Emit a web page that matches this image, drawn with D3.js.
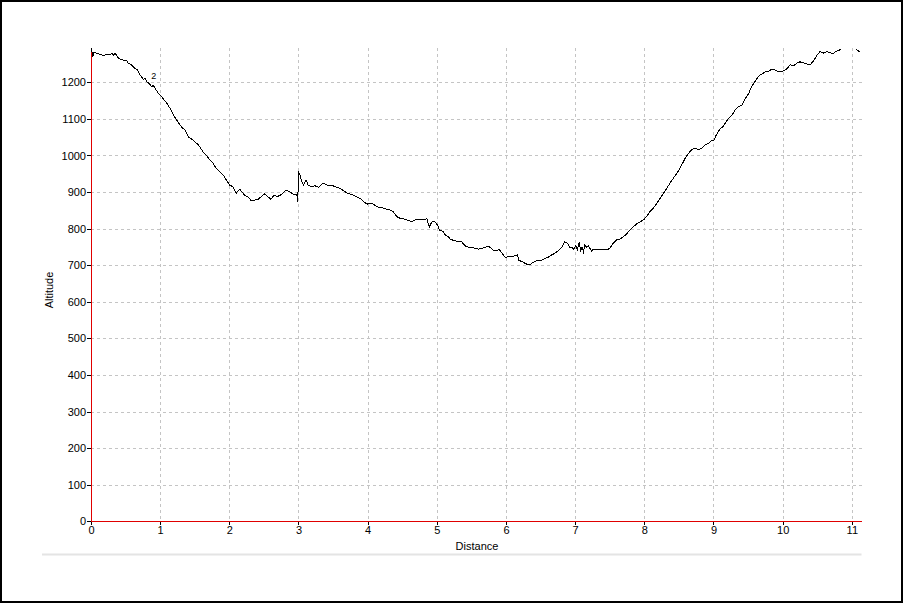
<!DOCTYPE html>
<html><head><meta charset="utf-8">
<script src="https://cdn.jsdelivr.net/npm/d3@7"></script>
<style>
html,body{margin:0;padding:0;background:#fff;}
svg{display:block;font-family:"Liberation Sans",Arial,sans-serif;}
</style></head>
<body>
<svg id="chart" width="904" height="604"></svg>
<script>
const distance = [0.00,0.01,0.025,0.043,0.09,0.13,0.18,0.23,0.275,0.3,0.32,0.345,0.37,0.395,0.43,0.467,0.516,0.54,0.59,0.636,0.67,0.71,0.757,0.78,0.805,0.84,0.878,0.9,0.926,0.973,1.022,1.056,1.095,1.143,1.19,1.24,1.287,1.33,1.36,1.407,1.48,1.55,1.57,1.62,1.667,1.717,1.764,1.81,1.86,1.91,1.957,2.006,2.05,2.1,2.15,2.18,2.22,2.27,2.32,2.37,2.415,2.46,2.51,2.56,2.6,2.65,2.69,2.74,2.78,2.82,2.87,2.92,2.97,2.985,2.99,3.0,3.02,3.05,3.07,3.11,3.14,3.19,3.24,3.29,3.32,3.36,3.41,3.46,3.5,3.55,3.6,3.65,3.7,3.745,3.79,3.84,3.89,3.94,3.99,4.035,4.08,4.13,4.18,4.23,4.28,4.32,4.37,4.42,4.47,4.54,4.59,4.64,4.685,4.73,4.78,4.83,4.855,4.89,4.93,4.97,5.01,5.04,5.09,5.12,5.17,5.19,5.26,5.31,5.36,5.41,5.46,5.5,5.55,5.6,5.65,5.7,5.74,5.77,5.82,5.87,5.9,5.94,5.99,6.03,6.11,6.17,6.18,6.23,6.3,6.34,6.37,6.42,6.47,6.52,6.57,6.61,6.66,6.71,6.76,6.81,6.85,6.89,6.92,6.95,6.98,7.01,7.03,7.06,7.08,7.1,7.12,7.14,7.17,7.19,7.22,7.24,7.26,7.31,7.385,7.46,7.5,7.55,7.6,7.65,7.7,7.75,7.79,7.84,7.89,7.94,7.99,8.04,8.08,8.13,8.18,8.23,8.28,8.33,8.37,8.42,8.47,8.5,8.54,8.59,8.64,8.69,8.74,8.78,8.83,8.88,8.93,8.98,9.0,9.04,9.07,9.1,9.14,9.18,9.22,9.27,9.31,9.36,9.41,9.46,9.51,9.55,9.6,9.63,9.67,9.72,9.75,9.79,9.84,9.89,9.94,9.99,10.04,10.08,10.11,10.16,10.2,10.25,10.3,10.35,10.4,10.45,10.5,10.54,10.59,10.64,10.68,10.73,10.76,10.81,10.84,10.95,11.06,11.12];
const altitude = [1293,1289,1270,1282,1279,1277,1273,1276,1275,1280,1274,1279,1275,1266,1262,1261,1261,1252,1247,1238,1234,1220,1208,1212,1202,1197,1188,1192,1184,1170,1161,1152,1143,1129,1111,1097,1083,1074,1070,1051,1042,1029,1024,1010,1001,988,979,965,956,947,933,919,915,897,908,901,892,886,876,878,880,887,895,887,880,892,887,892,898,906,901,895,892,896,874,956,947,928,919,933,919,915,917,913,919,924,919,917,917,913,910,904,897,895,892,887,883,874,867,869,867,860,858,856,853,851,846,833,828,826,822,819,824,824,826,824,828,804,819,819,810,796,792,783,778,771,767,764,764,753,749,749,746,744,746,749,753,749,740,740,744,734,721,723,725,729,714,710,703,701,705,710,714,714,719,722,728,733,740,749,764,760,749,749,744,753,742,762,740,749,737,755,749,753,744,737,744,744,742,742,746,760,769,772,778,787,796,805,813,819,824,835,846,856,869,883,897,912,924,938,951,960,974,992,1006,1017,1020,1015,1020,1029,1033,1042,1040,1056,1065,1074,1079,1092,1102,1111,1124,1133,1138,1156,1170,1188,1202,1211,1220,1225,1229,1229,1236,1234,1229,1229,1234,1241,1248,1245,1252,1256,1253,1250,1248,1260,1275,1284,1280,1284,1281,1278,1284,1287,1291,null,1290,1283];
const xTicks = [0,1,2,3,4,5,6,7,8,9,10,11];
const yTicks = [0,100,200,300,400,500,600,700,800,900,1000,1100,1200];
const markerLabels = [{d:0.9, a:1215, text:"2"}];
const xTitle = "Distance";
const yTitle = "Altitude";

const svg = d3.select("#chart");
const L = 91, R = 861.5, T = 48.3, B = 521.3;
const x = d3.scaleLinear().domain([0, 11.14]).range([L, R]);
const y = d3.scaleLinear().domain([0, 1293]).range([B, T]);

// outer frame
svg.append("rect").attr("x",1).attr("y",1).attr("width",901).attr("height",601)
  .attr("fill","#fff").attr("stroke","#000").attr("stroke-width",2);

// gridlines
const grid = svg.append("g").attr("stroke","#c4c4c4").attr("stroke-dasharray","3,3").attr("shape-rendering","crispEdges");
grid.selectAll("line.h").data(yTicks.filter(v=>v>0)).join("line")
  .attr("x1",L).attr("x2",R).attr("y1",d=>Math.round(y(d))+0.5).attr("y2",d=>Math.round(y(d))+0.5);
grid.selectAll("line.v").data(xTicks.filter(v=>v>0)).join("line")
  .attr("y1",T).attr("y2",B).attr("x1",d=>Math.round(x(d))+0.5).attr("x2",d=>Math.round(x(d))+0.5);

// axes
const xAxis = d3.axisBottom(x).tickValues(xTicks).tickSize(4).tickPadding(1).tickFormat(d3.format("d"));
const yAxis = d3.axisLeft(y).tickValues(yTicks).tickSize(4).tickPadding(1).tickFormat(d3.format("d"));
const gx = svg.append("g").attr("transform",`translate(0,${B})`).call(xAxis);
const gy = svg.append("g").attr("transform",`translate(${L},0)`).call(yAxis);
[gx,gy].forEach(g=>{
  g.select(".domain").remove();
  g.selectAll(".tick line").attr("stroke","#000").attr("shape-rendering","crispEdges");
  g.selectAll(".tick text").attr("fill","#000").attr("font-size","11px");
});
svg.append("line").attr("x1",L+0.5).attr("x2",L+0.5).attr("y1",T).attr("y2",B)
  .attr("stroke","#e00000").attr("stroke-width",1).attr("shape-rendering","crispEdges");
svg.append("line").attr("x1",L).attr("x2",R).attr("y1",B).attr("y2",B)
  .attr("stroke","#e00000").attr("stroke-width",1).attr("shape-rendering","crispEdges");

// bottom separator
svg.append("line").attr("x1",42).attr("x2",R).attr("y1",554.5).attr("y2",554.5)
  .attr("stroke","#e4e4e4").attr("stroke-width",2);

// titles
svg.append("text").attr("x",477).attr("y",550).attr("text-anchor","middle")
  .attr("font-size","11px").text(xTitle);
svg.append("text").attr("transform","translate(53,290) rotate(-90)").attr("text-anchor","middle")
  .attr("font-size","11px").text(yTitle);

// data line
const pts = distance.map((d,i)=>({d, a: altitude[i]}));
const line = d3.line().defined(p=>p.a!==null).x(p=>x(p.d)).y(p=>y(p.a));
svg.append("path").datum(pts).attr("d",line).attr("fill","none")
  .attr("stroke","#000").attr("stroke-width",1).attr("shape-rendering","crispEdges");

// marker labels
svg.selectAll("text.mk").data(markerLabels).join("text").attr("class","mk")
  .attr("x",p=>x(p.d)+0.5).attr("y",p=>y(p.a)+2).attr("text-anchor","middle")
  .attr("font-size","9px").text(p=>p.text);
</script>
</body></html>
